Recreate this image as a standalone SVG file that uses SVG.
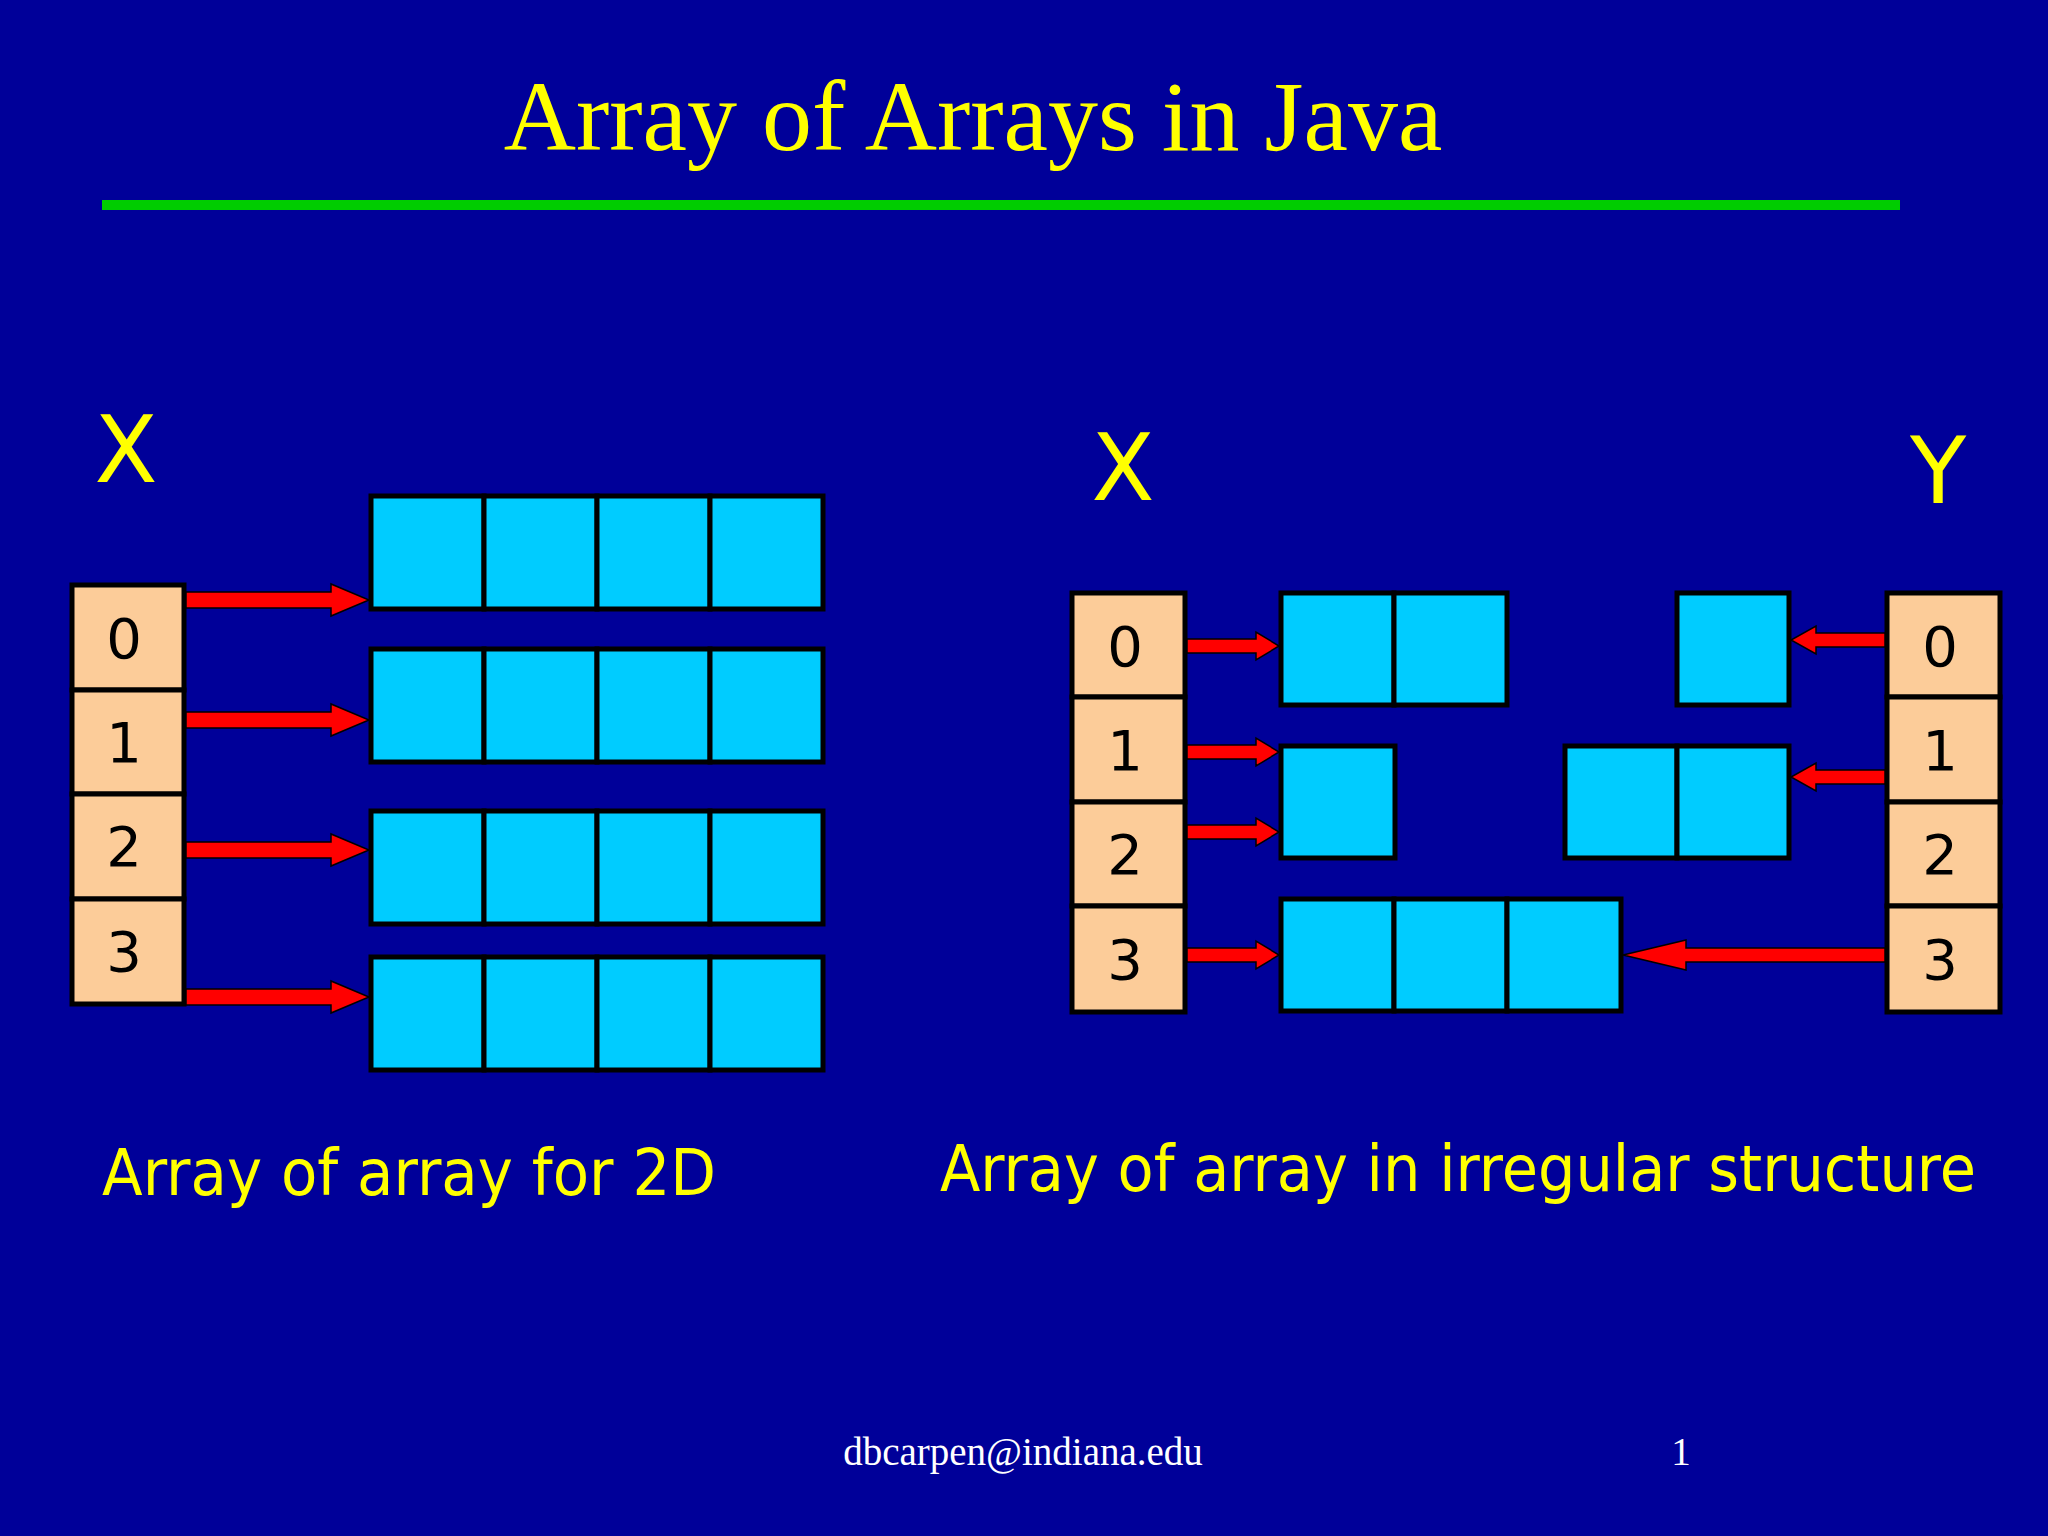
<svg xmlns="http://www.w3.org/2000/svg" width="2048" height="1536" viewBox="0 0 2048 1536">
<style>
.bg{fill:#000099}
.idx{fill:#fccc99;stroke:#000;stroke-width:5}
.cell{fill:#00ccff;stroke:#000;stroke-width:5}
.num{font-family:"DejaVu Sans",sans-serif;font-size:56px;fill:#000;text-anchor:middle}
.lbl{font-family:"DejaVu Sans",sans-serif;font-size:92px;fill:#ffff00;text-anchor:middle}
.cap{font-family:"DejaVu Sans",sans-serif;font-size:64px;fill:#ffff00}
.arr{fill:#ff0000;stroke:#000;stroke-width:1.5}
</style>
<rect class="bg" width="2048" height="1536"/>
<text x="973" y="150" font-family="Liberation Serif,serif" font-size="100" fill="#ffff00" text-anchor="middle">Array of Arrays in Java</text>
<rect x="102" y="200" width="1798" height="10" fill="#00cc00"/>
<g id="leftX">
<text class="lbl" x="126" y="482">X</text>
<rect class="idx" x="72" y="585" width="112" height="105"/><text class="num" x="124" y="658">0</text>
<rect class="idx" x="72" y="690" width="112" height="104"/><text class="num" x="124" y="762">1</text>
<rect class="idx" x="72" y="794" width="112" height="105"/><text class="num" x="124" y="866">2</text>
<rect class="idx" x="72" y="899" width="112" height="105"/><text class="num" x="124" y="971">3</text>
</g>
<g id="leftRows">
<g id="r0"><rect class="cell" x="371" y="496" width="113" height="113"/><rect class="cell" x="484" y="496" width="113" height="113"/><rect class="cell" x="597" y="496" width="113" height="113"/><rect class="cell" x="710" y="496" width="113" height="113"/></g>
<g id="r1"><rect class="cell" x="371" y="649" width="113" height="113"/><rect class="cell" x="484" y="649" width="113" height="113"/><rect class="cell" x="597" y="649" width="113" height="113"/><rect class="cell" x="710" y="649" width="113" height="113"/></g>
<g id="r2"><rect class="cell" x="371" y="811" width="113" height="113"/><rect class="cell" x="484" y="811" width="113" height="113"/><rect class="cell" x="597" y="811" width="113" height="113"/><rect class="cell" x="710" y="811" width="113" height="113"/></g>
<g id="r3"><rect class="cell" x="371" y="957" width="113" height="113"/><rect class="cell" x="484" y="957" width="113" height="113"/><rect class="cell" x="597" y="957" width="113" height="113"/><rect class="cell" x="710" y="957" width="113" height="113"/></g>
</g>
<g id="rightX">
<text class="lbl" x="1123" y="500">X</text>
<rect class="idx" x="1072" y="593" width="113" height="104"/><text class="num" x="1125" y="666">0</text>
<rect class="idx" x="1072" y="697" width="113" height="105"/><text class="num" x="1125" y="770">1</text>
<rect class="idx" x="1072" y="802" width="113" height="104"/><text class="num" x="1125" y="874">2</text>
<rect class="idx" x="1072" y="906" width="113" height="106"/><text class="num" x="1125" y="979">3</text>
</g>
<g id="rightY">
<text class="lbl" x="1938" y="503">Y</text>
<rect class="idx" x="1887" y="593" width="113" height="104"/><text class="num" x="1940" y="666">0</text>
<rect class="idx" x="1887" y="697" width="113" height="105"/><text class="num" x="1940" y="770">1</text>
<rect class="idx" x="1887" y="802" width="113" height="104"/><text class="num" x="1940" y="874">2</text>
<rect class="idx" x="1887" y="906" width="113" height="106"/><text class="num" x="1940" y="979">3</text>
</g>
<g id="rightBoxes">
<g id="x0"><rect class="cell" x="1281" y="593" width="113" height="112"/><rect class="cell" x="1394" y="593" width="113" height="112"/></g>
<g id="y0"><rect class="cell" x="1677" y="593" width="112" height="112"/></g>
<g id="x12"><rect class="cell" x="1281" y="746" width="114" height="112"/></g>
<g id="y1"><rect class="cell" x="1565" y="746" width="112" height="112"/><rect class="cell" x="1677" y="746" width="112" height="112"/></g>
<g id="s3"><rect class="cell" x="1281" y="899" width="113" height="112"/><rect class="cell" x="1394" y="899" width="113" height="112"/><rect class="cell" x="1507" y="899" width="114" height="112"/></g>
</g>
<g id="connectors">
<path class="arr" d="M186,592 H331 V584 L369,600 L331,616 V608 H186 Z"/>
<path class="arr" d="M186,712 H331 V704 L369,720 L331,736 V728 H186 Z"/>
<path class="arr" d="M186,842 H331 V834 L369,850 L331,866 V858 H186 Z"/>
<path class="arr" d="M186,989 H331 V981 L369,997 L331,1013 V1005 H186 Z"/>
<path class="arr" d="M1187,639 H1256 V632 L1279,646 L1256,660 V653 H1187 Z"/>
<path class="arr" d="M1187,745 H1256 V738 L1279,752 L1256,766 V759 H1187 Z"/>
<path class="arr" d="M1187,825 H1256 V818 L1279,832 L1256,846 V839 H1187 Z"/>
<path class="arr" d="M1187,948 H1256 V941 L1279,955 L1256,969 V962 H1187 Z"/>
<path class="arr" d="M1885,633 H1816 V626 L1791,640 L1816,654 V647 H1885 Z"/>
<path class="arr" d="M1885,770 H1816 V763 L1791,777 L1816,791 V784 H1885 Z"/>
<path class="arr" d="M1885,948 H1686 V940 L1623,955 L1686,970 V962 H1885 Z"/>
</g>
<text class="cap" x="102" y="1195" textLength="614" lengthAdjust="spacingAndGlyphs">Array of array for 2D</text>
<text class="cap" x="940" y="1191" textLength="1036" lengthAdjust="spacingAndGlyphs">Array of array in irregular structure</text>
<text x="1023" y="1465" font-family="Liberation Serif,serif" font-size="39" fill="#fff" text-anchor="middle">dbcarpen@indiana.edu</text>
<text x="1681" y="1465" font-family="Liberation Serif,serif" font-size="39" fill="#fff" text-anchor="middle">1</text>
</svg>
